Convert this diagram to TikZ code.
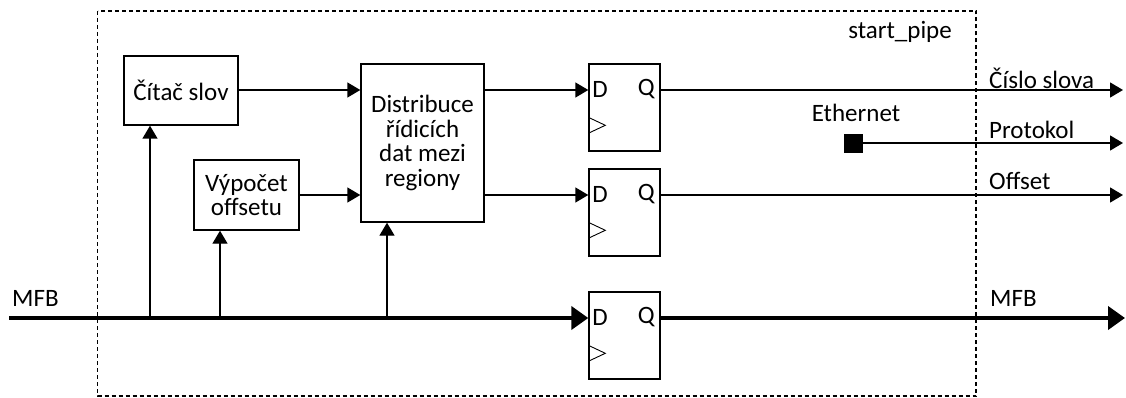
\documentclass[tikz,border=0pt]{standalone}
\usepackage{fontspec}
\setmainfont{Carlito}
\usetikzlibrary{arrows.meta}
\tikzset{
  block/.style={draw, line width=1.4pt, inner sep=2pt, align=center},
  ffbox/.style={draw, line width=1.4pt, minimum width=71pt, minimum height=87pt, inner sep=0pt},
  sig/.style={line width=1.4pt, -{Triangle[length=13pt,width=15pt]}},
  bus/.style={line width=4pt, -{Triangle[length=17pt,width=23pt]}},
  label/.style={inner sep=0pt},
  frame/.style={line width=1.3pt, dash pattern=on 4pt off 3pt},
}
\begin{document}
\begin{tikzpicture}[x=1pt, y=-1pt, every node/.style={font=\fontsize{25}{24.4}\selectfont}]
\useasboundingbox (0,0) rectangle (1126,398);

% module boundary
\draw[frame] (97.5,11) rectangle (976,396);
\node[label, anchor=east] (title) at (952,32) {start\_pipe};

% processing blocks
\node[block, minimum width=114pt, minimum height=69pt] (cit) at (181,90.5) {Čítač slov};
\node[block, minimum width=105pt, minimum height=70pt] (vyp) at (246.5,195) {Výpočet\\offsetu};
\node[block, minimum width=123pt, minimum height=158pt] (dist) at (422.5,143) {Distribuce\\řídicích\\dat mezi\\regiony};

% register stages (D flip-flops with clock marker)
\foreach \n/\yc in {ff1/107.5, ff2/212.5, ff3/335.5}{
  \node[ffbox] (\n) at (624.5,\yc) {};
  \node[label, anchor=center] (\n d) at ([xshift=11.7pt,yshift=-26pt]\n.north west) {D};
  \node[label, anchor=center] (\n q) at ([xshift=-14.4pt,yshift=-26pt]\n.north east) {Q};
  \draw[line width=0.9pt] ([yshift=-54pt]\n.north west) -- ([xshift=17pt,yshift=-62pt]\n.north west) -- ([yshift=-70pt]\n.north west);
}

% MFB bus and its taps
\coordinate (in) at (9,318);
\coordinate (t1) at (150,318);
\coordinate (t2) at (220,318);
\coordinate (t3) at (387,318);
\node[label, anchor=west] (mfbin) at (12,298) {MFB};
\draw[bus] (in) -- (ff3.west |- in);
\draw[sig] (t1) -- (t1 |- cit.south);
\draw[sig] (t2) -- (t2 |- vyp.south);
\draw[sig] (t3) -- (t3 |- dist.south);

% internal connections
\draw[sig] (cit.east |- 0,90) -- (dist.west |- 0,90);
\draw[sig] (vyp.east |- 0,195) -- (dist.west |- 0,195);
\draw[sig] (dist.east |- 0,90) -- (ff1.west |- 0,90);
\draw[sig] (dist.east |- 0,195) -- (ff2.west |- 0,195);

% outputs
\coordinate (o1) at (1123,90);
\coordinate (o2) at (1123,143);
\coordinate (o3) at (1123,195);
\coordinate (o4) at (1125,318);
\draw[sig] (ff1.east |- o1) -- (o1);
\node[draw, fill=black, minimum size=18pt, inner sep=0pt] (eth) at (853,143) {};
\node[label] (ethl) at (856,113) {Ethernet};
\draw[sig] (eth.east) -- (o2);
\draw[sig] (ff2.east |- o3) -- (o3);
\draw[bus] (ff3.east |- o4) -- (o4);
\node[label, anchor=west] (l1) at (989,78) {Číslo slova};
\node[label, anchor=west] (l2) at (989,130) {Protokol};
\node[label, anchor=west] (l3) at (989,181) {Offset};
\node[label, anchor=west] (l4) at (990,298) {MFB};
\end{tikzpicture}
\end{document}
